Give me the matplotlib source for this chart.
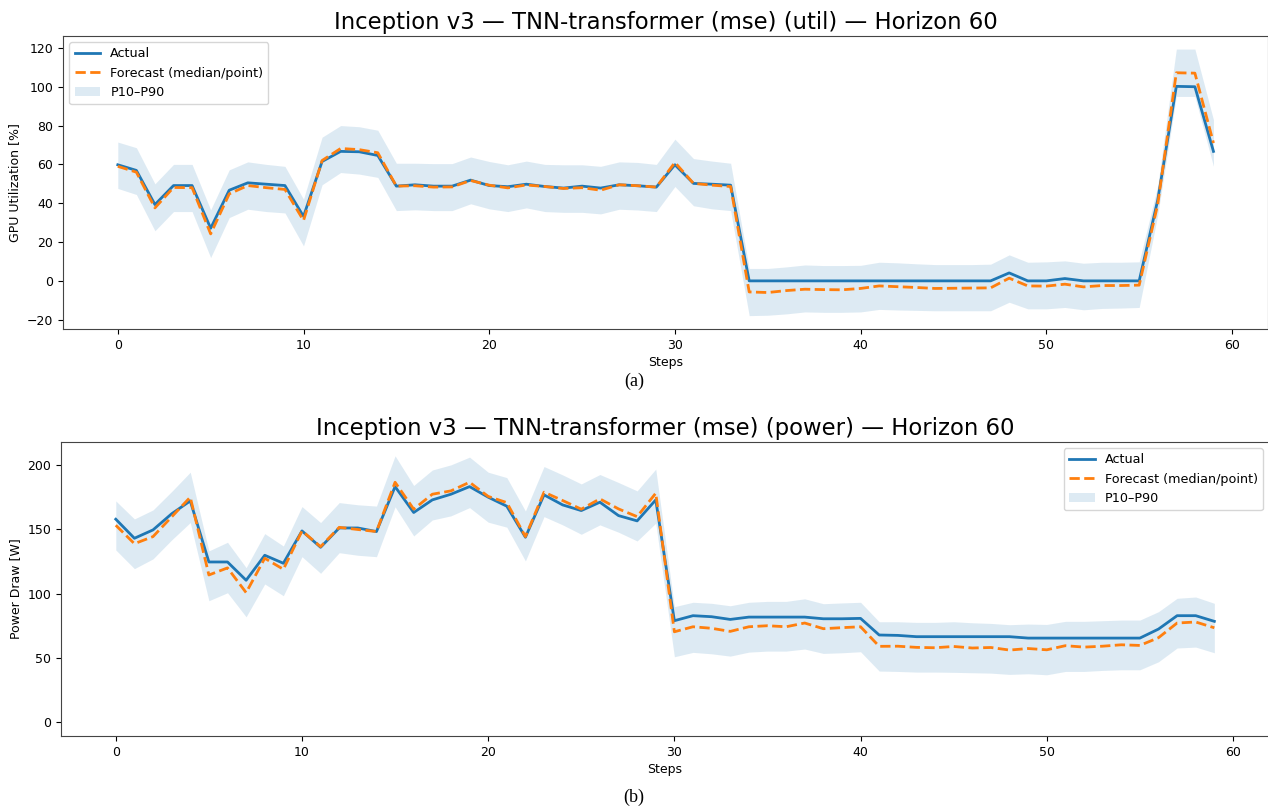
import numpy as np
import matplotlib
matplotlib.use("Agg")
import matplotlib.pyplot as plt

steps = list(range(60))

actual_u = [59.8, 56.9, 39.3, 49.1, 49.1, 27.1, 46.7, 50.5, 49.8, 49.1,
            33.2, 61.5, 66.7, 66.5, 64.6, 48.8, 49.5, 48.8, 48.8, 51.9,
            49.1, 48.5, 49.8, 48.6, 47.8, 48.8, 47.8, 49.5, 49.0, 48.3,
            59.8, 50.2, 49.8, 49.3, 0, 0, 0, 0, 0, 0,
            0, 0, 0, 0, 0, 0, 0, 0, 4.1, 0,
            0, 1.2, 0, 0, 0, 0, 41.7, 100.2, 100.0, 66.7]
forecast_u = [59.0, 56.0, 37.6, 48.1, 48.0, 24.2, 44.8, 49.1, 48.0, 47.1,
              31.1, 62.0, 68.2, 67.6, 66.0, 48.8, 49.0, 48.3, 48.4, 51.7,
              49.3, 47.9, 49.4, 48.6, 47.6, 48.0, 46.7, 49.5, 49.0, 48.3,
              61.0, 50.2, 49.3, 48.6, -5.7, -6.0, -5.0, -4.3, -4.5, -4.6,
              -3.9, -2.6, -3.0, -3.4, -3.9, -3.8, -3.7, -3.6, 1.4, -2.6,
              -2.7, -1.7, -3.1, -2.4, -2.4, -2.2, 39.5, 107.2, 107.0, 71.0]
upper_u = [71.5, 68.6, 50.0, 60.0, 60.0, 36.6, 57.2, 61.3, 60.0, 59.0,
           42.1, 74.0, 80.0, 79.4, 77.6, 60.6, 60.6, 60.4, 60.4, 63.8,
           61.5, 59.8, 61.7, 60.0, 59.8, 59.8, 59.0, 61.3, 61.0, 60.0,
           73.0, 63.0, 61.7, 60.6, 6.4, 6.4, 7.2, 8.2, 7.9, 7.9,
           8.0, 9.6, 9.3, 8.8, 8.4, 8.4, 8.4, 8.6, 13.4, 9.6,
           9.8, 10.3, 9.1, 9.6, 9.6, 9.8, 49.0, 119.4, 119.4, 83.0]
lower_u = [47.6, 44.5, 25.8, 35.7, 35.7, 12.0, 32.6, 36.9, 35.7, 35.0,
           18.0, 49.5, 55.8, 55.0, 53.3, 36.2, 36.6, 36.2, 36.2, 39.7,
           37.1, 35.7, 37.6, 35.7, 35.3, 35.3, 34.5, 36.9, 36.5, 35.7,
           48.6, 38.7, 37.1, 36.2, -17.9, -17.7, -17.0, -16.0, -16.2, -16.2,
           -16.0, -14.7, -15.0, -15.2, -15.4, -15.4, -15.4, -15.4, -11.0, -14.4,
           -14.4, -13.7, -14.9, -14.2, -14.0, -13.7, 34.0, 95.0, 95.0, 59.0]

actual_p = [157.8, 143.0, 149.5, 162.0, 172.0, 124.6, 124.6, 110.4, 129.8, 123.6,
            148.7, 136.0, 151.0, 151.0, 148.2, 183.1, 163.0, 172.8, 177.2, 183.1,
            174.9, 167.9, 143.8, 176.7, 168.9, 164.5, 171.0, 160.6, 156.5, 172.8,
            79.0, 82.9, 82.1, 80.0, 81.8, 81.8, 81.8, 81.8, 80.5, 80.5,
            80.8, 67.9, 67.6, 66.6, 66.6, 66.6, 66.6, 66.6, 66.6, 65.5,
            65.5, 65.5, 65.5, 65.5, 65.5, 65.5, 72.5, 82.9, 82.9, 78.5]
forecast_p = [153.1, 138.8, 144.3, 159.6, 174.9, 114.5, 120.0, 100.8, 127.5, 118.9,
              148.7, 136.5, 151.5, 149.8, 148.2, 186.5, 165.6, 177.2, 179.8, 186.5,
              175.5, 170.7, 144.3, 178.8, 172.3, 165.6, 173.6, 165.8, 159.8, 178.0,
              70.4, 74.3, 73.1, 70.7, 74.3, 75.1, 74.3, 77.2, 72.8, 73.6,
              74.3, 59.1, 59.2, 58.3, 58.0, 59.0, 57.8, 58.2, 56.2, 57.4,
              56.4, 59.6, 58.5, 59.2, 60.3, 59.8, 65.8, 77.2, 78.0, 73.5]
upper_p = [172.0, 158.0, 165.0, 179.3, 194.3, 133.2, 139.9, 120.2, 146.6, 137.0,
           167.6, 155.2, 170.7, 169.0, 168.0, 207.0, 184.0, 196.0, 200.0, 206.0,
           194.3, 190.1, 164.2, 198.7, 192.2, 185.2, 192.5, 186.3, 179.8, 196.7,
           89.9, 93.3, 92.5, 90.6, 93.3, 94.0, 94.0, 96.0, 92.2, 92.8,
           93.3, 78.2, 78.2, 77.7, 77.7, 78.2, 77.4, 76.9, 75.9, 76.4,
           76.1, 78.5, 78.5, 79.0, 79.5, 79.5, 86.0, 96.4, 97.4, 92.5]
lower_p = [133.9, 119.4, 127.0, 141.7, 155.2, 94.5, 100.7, 82.0, 107.5, 98.4,
           128.7, 115.8, 131.8, 129.8, 128.7, 167.4, 144.8, 157.2, 160.4, 166.8,
           155.5, 151.6, 125.4, 159.8, 153.4, 146.1, 153.4, 147.7, 140.9, 154.7,
           51.0, 54.4, 53.3, 51.5, 54.6, 55.4, 55.4, 57.0, 53.6, 54.1,
           54.9, 39.9, 39.6, 39.1, 39.1, 38.9, 38.6, 38.3, 37.3, 37.8,
           37.0, 39.6, 39.6, 40.4, 40.9, 40.9, 47.1, 57.8, 58.5, 54.1]

titles = ["Inception v3 \u2014 TNN-transformer (mse) (util) \u2014 Horizon 60",
          "Inception v3 \u2014 TNN-transformer (mse) (power) \u2014 Horizon 60"]
ylabels = ["GPU Utilization [%]", "Power Draw [W]"]
captions = ["(a)", "(b)"]

fig = plt.figure(figsize=(12.68, 8.11), dpi=100)
ax1 = fig.add_axes([0.0497, 0.5943, 0.9505, 0.3617])
ax2 = fig.add_axes([0.0480, 0.0925, 0.9530, 0.3629])

panels = [
    (ax1, actual_u, forecast_u, lower_u, upper_u, "upper left", (-24.8, 126.3)),
    (ax2, actual_p, forecast_p, lower_p, upper_p, "upper right", (-10.5, 218.0)),
]
for i, (ax, a, f, lo, hi, loc, yl) in enumerate(panels):
    ax.fill_between(steps, lo, hi, color="#1f77b4", alpha=0.15, linewidth=0, label="P10\u2013P90")
    ax.plot(steps, a, color="#1f77b4", lw=2.0, label="Actual")
    ax.plot(steps, f, color="#ff7f0e", lw=2.0, ls="--", label="Forecast (median/point)")
    ax.set_ylim(*yl)
    ax.set_title(titles[i], fontsize=16.4, pad=5)
    ax.set_xlabel("Steps", fontsize=9, labelpad=3)
    ax.set_ylabel(ylabels[i], fontsize=9, labelpad=4)
    ax.tick_params(labelsize=9)
    h, l = ax.get_legend_handles_labels()
    order = [1, 2, 0]
    ax.legend([h[k] for k in order], [l[k] for k in order], loc=loc, fontsize=9.2)
    for s in ax.spines.values():
        s.set_color("#444444")

fig.text(0.5005, 1 - 381 / 811, captions[0], ha="center", va="center",
         fontsize=13, family="Liberation Serif")
fig.text(0.5, 1 - 797 / 811, captions[1], ha="center", va="center",
         fontsize=13, family="Liberation Serif")

fig.savefig("out.png", dpi=100)
